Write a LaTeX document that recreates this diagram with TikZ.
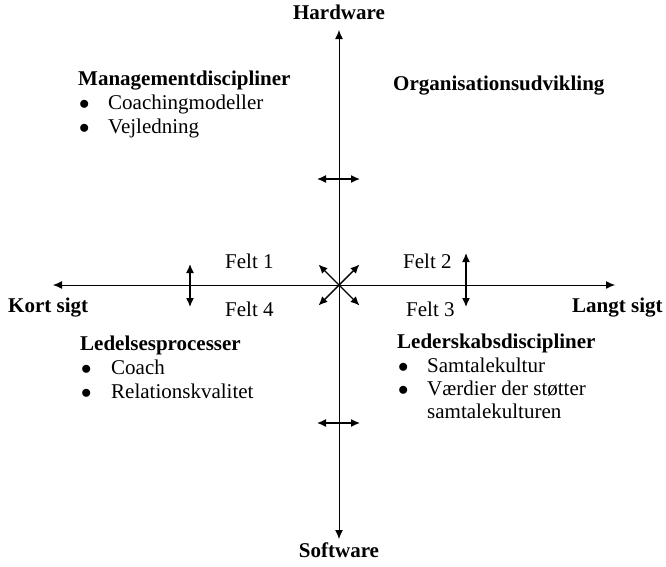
\documentclass[tikz,border=0pt]{standalone}
\usepackage{fontspec}
\setmainfont{Liberation Serif}
\usetikzlibrary{arrows.meta}

\newcommand{\fsz}{\fontsize{21}{24}\selectfont}

\tikzset{
  txt/.style={anchor=base west, inner sep=0pt, font=\fsz},
  head/.style={txt, font=\fsz\bfseries},
  tip/.style={-{Latex[length=9pt, width=8pt]}},
  axis/.style={line width=1pt, tip},
  dbl/.style={line width=1.4pt, {Latex[length=9pt, width=8pt]}-{Latex[length=9pt, width=8pt]}}
}

\begin{document}
\begin{tikzpicture}[x=1pt, y=-1pt]
\useasboundingbox (0,0) rectangle (666,566);

% axes
\coordinate (c) at (339,285);
\node[inner sep=0pt, anchor=base, font=\fsz\bfseries] (hw) at (339,19) {Hardware};
\node[inner sep=0pt, anchor=base, font=\fsz\bfseries] (sw) at (339,557) {Software};
\node[head] (kort) at (8,312) {Kort sigt};
\node[head] (langt) at (572,312) {Langt sigt};
\coordinate (top) at (339,30);
\coordinate (bot) at (339,539);
\coordinate (left) at (53,285);
\coordinate (right) at (615,285);
\draw[axis] (c) -- (top);
\draw[axis] (c) -- (bot);
\draw[axis] (c) -- (left);
\draw[axis] (c) -- (right);

% arrows round the centre
\foreach \a in {45, 135, 225, 315} {
\draw[line width=1.4pt, tip] (c) -- ++(\a:29);
}
\coordinate (v1a) at (190,264);
\coordinate (v1b) at (190,307);
\coordinate (v2a) at (466,253);
\coordinate (v2b) at (466,307);
\coordinate (h1a) at (317,179);
\coordinate (h1b) at (360,179);
\coordinate (h2a) at (317,423);
\coordinate (h2b) at (360,423);
\draw[dbl] (v1a) -- (v1b);
\draw[dbl] (v2a) -- (v2b);
\draw[dbl] (h1a) -- (h1b);
\draw[dbl] (h2a) -- (h2b);

% felter
\node[txt] (f1) at (225,268) {Felt 1};
\node[txt] (f2) at (403,268) {Felt 2};
\node[txt] (f3) at (406,316) {Felt 3};
\node[txt] (f4) at (225,316) {Felt 4};

% top left
\node[head] (mgmt) at (78,85) {Managementdiscipliner};
\node[txt] (b1) at (79,109) {$\bullet$};
\node[txt] (m1) at (108,109) {Coachingmodeller};
\node[txt] (b2) at (79,133) {$\bullet$};
\node[txt] (m2) at (108,133) {Vejledning};

% top right
\node[head] (org) at (393,90) {Organisationsudvikling};

% bottom left
\node[head] (led) at (80,350) {Ledelsesprocesser};
\node[txt] (b3) at (81,374) {$\bullet$};
\node[txt] (l1) at (111,374) {Coach};
\node[txt] (b4) at (81,398) {$\bullet$};
\node[txt] (l2) at (111,398) {Relationskvalitet};

% bottom right
\node[head] (lsk) at (397,348) {Lederskabsdiscipliner};
\node[txt] (b5) at (398,372) {$\bullet$};
\node[txt] (s1) at (427,372) {Samtalekultur};
\node[txt] (b6) at (398,395) {$\bullet$};
\node[txt] (s2) at (427,395) {Værdier der støtter};
\node[txt] (s3) at (427,418) {samtalekulturen};

\end{tikzpicture}
\end{document}
